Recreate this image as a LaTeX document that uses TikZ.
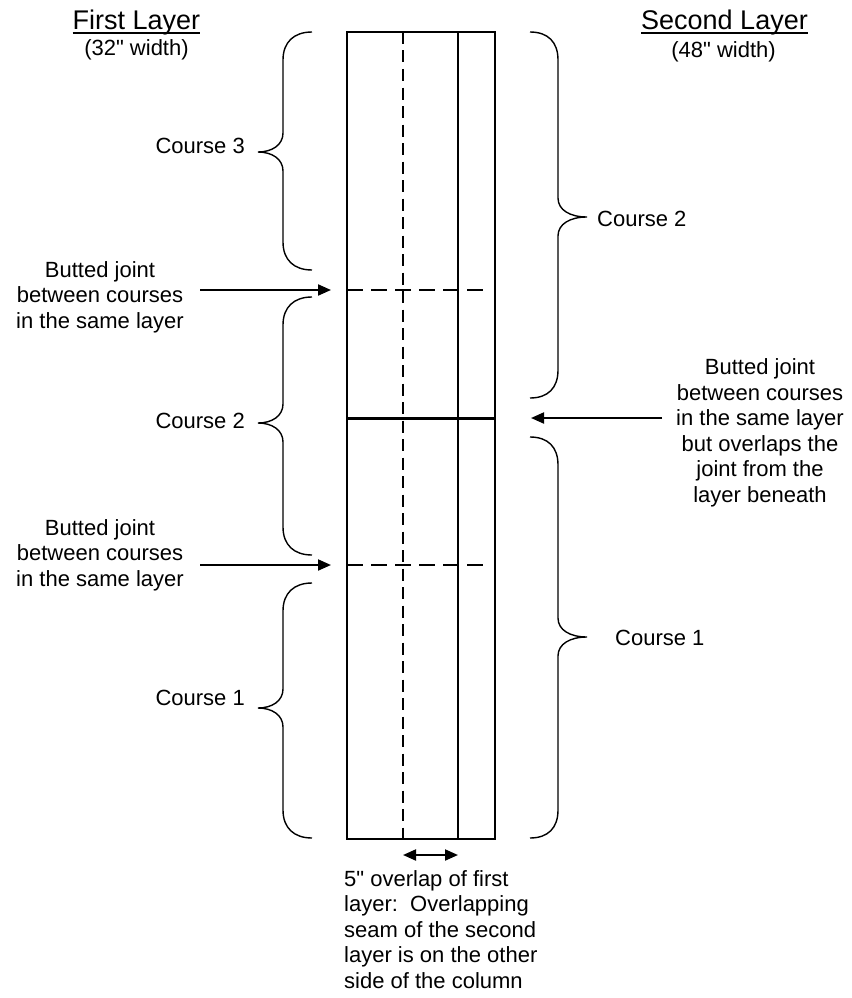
\documentclass[tikz,border=0pt]{standalone}
\usepackage{fontspec}
\setmainfont{Liberation Sans}
\usetikzlibrary{arrows.meta}
\newcommand\LBrace[4]{%
  \draw[bracel] (#1,#2) .. controls (#1-18,#2) and (#1-29,#2+10) .. (#1-29,#2+28)
    -- (#1-29,#3-19) .. controls (#1-29,#3-7) and (#1-40,#3) .. (#1-54,#3)
    .. controls (#1-40,#3) and (#1-29,#3+7) .. (#1-29,#3+19)
    -- (#1-29,#4-28) .. controls (#1-29,#4-10) and (#1-18,#4) .. (#1,#4);}
\newcommand\RBrace[4]{%
  \draw[bracel] (#1,#2) .. controls (#1+18,#2) and (#1+28,#2+10) .. (#1+28,#2+28)
    -- (#1+28,#3-19) .. controls (#1+28,#3-7) and (#1+40,#3) .. (#1+57,#3)
    .. controls (#1+40,#3) and (#1+28,#3+7) .. (#1+28,#3+19)
    -- (#1+28,#4-28) .. controls (#1+28,#4-10) and (#1+18,#4) .. (#1,#4);}
\begin{document}
\begin{tikzpicture}[x=1pt,y=-1pt,
  every node/.style={inner sep=0pt, font=\fontsize{22}{25.5}\selectfont},
  title/.style={font=\fontsize{27}{30}\selectfont, anchor=base},
  lbl/.style={anchor=base, align=center},
  bracel/.style={line width=1.4pt},
  colline/.style={line width=1.5pt},
  vdash/.style={line width=2.2pt, dash pattern=on 12pt off 6.5pt},
  hdash/.style={line width=2.4pt, dash pattern=on 16pt off 8pt},
  arr/.style={line width=2pt, -{Triangle[length=13pt,width=11pt]}},
  darr/.style={line width=2pt, {Triangle[length=13pt,width=11pt]}-{Triangle[length=13pt,width=11pt]}}]
\useasboundingbox (0,0) rectangle (851,998);
% column
\coordinate (tl) at (347,32);
\coordinate (br) at (495,839);
\draw[colline] (tl) rectangle (br);
\coordinate (dv1) at (403,32); \coordinate (dv2) at (403,839);
\draw[vdash] (dv1) -- (dv2);
\coordinate (sv1) at (458,32); \coordinate (sv2) at (458,839);
\draw[colline] (sv1) -- (sv2);
\coordinate (h1a) at (347,290); \coordinate (h1b) at (490,290);
\draw[hdash] (h1a) -- (h1b);
\coordinate (h2a) at (347,565); \coordinate (h2b) at (490,565);
\draw[hdash] (h2a) -- (h2b);
\coordinate (h3a) at (347,418); \coordinate (h3b) at (495,418);
\draw[line width=3pt] (h3a) -- (h3b);
% titles
\node[title] (t1) at (136.5,30) {First Layer};
\draw[line width=1.6pt] ([yshift=-3pt]t1.base west) -- ([yshift=-3pt]t1.base east);
\node[anchor=base] (t1w) at (136.5,56) {(32\textquotedbl{} width)};
\node[title] (t2) at (724.5,30) {Second Layer};
\draw[line width=1.6pt] ([yshift=-3pt]t2.base west) -- ([yshift=-3pt]t2.base east);
\node[anchor=base] (t2w) at (723.5,57) {(48\textquotedbl{} width)};
% braces
\LBrace{312}{32}{152}{270}
\LBrace{312}{297}{423}{555}
\LBrace{312}{583}{708}{838}
\RBrace{530}{32}{217}{398}
\RBrace{530}{437}{637}{838}
% course labels
\node[anchor=base east] (c3l) at (245,153) {Course 3};
\node[anchor=base east] (c2l) at (245,428) {Course 2};
\node[anchor=base east] (c1l) at (245,705) {Course 1};
\node[anchor=base west] (c2r) at (597,226) {Course 2};
\node[anchor=base west] (c1r) at (615,645) {Course 1};
% joint labels and arrows
\node[lbl] (j1) at (100,328) {Butted joint\\between courses\\in the same layer};
\node[lbl] (j2) at (100,586) {Butted joint\\between courses\\in the same layer};
\node[lbl] (j3) at (760,502) {Butted joint\\between courses\\in the same layer\\but overlaps the\\joint from the\\layer beneath};
\coordinate (a1s) at (200,290); \coordinate (a1e) at (331,290);
\draw[arr] (a1s) -- (a1e);
\coordinate (a2s) at (200,565); \coordinate (a2e) at (331,565);
\draw[arr] (a2s) -- (a2e);
\coordinate (a3s) at (662,418); \coordinate (a3e) at (531,418);
\draw[arr] (a3s) -- (a3e);
% overlap
\coordinate (o1) at (403,855); \coordinate (o2) at (458,855);
\draw[darr] (o1) -- (o2);
\node[anchor=base west, align=left] (ov) at (344,988) {5\textquotedbl{} overlap of first\\layer:\ \ Overlapping\\seam of the second\\layer is on the other\\side of the column};
\end{tikzpicture}
\end{document}
